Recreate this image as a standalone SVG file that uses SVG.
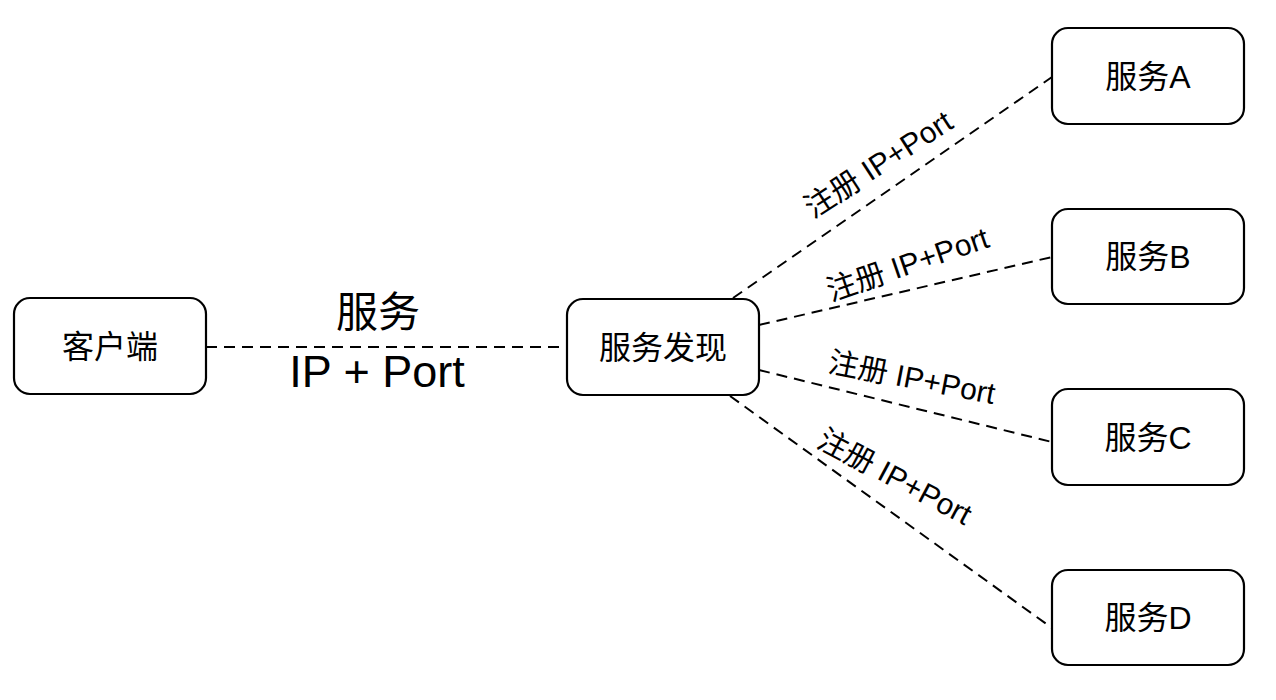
<svg xmlns="http://www.w3.org/2000/svg" width="1276" height="700" viewBox="0 0 1276 700">
<style>
.box{fill:#fff;stroke:#000;stroke-width:2.2}
.t{font-family:"Liberation Sans","Noto Sans CJK SC",sans-serif;fill:#000;text-anchor:middle}
.n{font-size:32px}
.e{font-size:30px}
.edge{fill:none;stroke:#000;stroke-width:2;stroke-dasharray:11 7}
</style>
<rect width="1276" height="700" fill="#fff"/>
<g id="connectors">
<line class="edge" x1="206" y1="347" x2="567" y2="347"/>
<line class="edge" x1="733" y1="298" x2="1052" y2="77"/>
<line class="edge" x1="759" y1="325" x2="1052" y2="257"/>
<line class="edge" x1="759" y1="370" x2="1052" y2="442"/>
<line class="edge" x1="730" y1="396" x2="1052" y2="628"/>
<text class="t" style="font-size:42px" x="378" y="327">服务</text>
<text class="t" style="font-size:45px" x="377" y="387">IP + Port</text>
<text class="t e" transform="translate(884,173) rotate(-33)">注册 IP+Port</text>
<text class="t e" transform="translate(911,274) rotate(-19)">注册 IP+Port</text>
<text class="t e" transform="translate(910,388) rotate(11)">注册 IP+Port</text>
<text class="t e" transform="translate(890,486) rotate(28)">注册 IP+Port</text>
</g>
<g id="client"><rect class="box" x="14" y="298" width="192" height="96" rx="16"/><text class="t n" x="110" y="358">客户端</text></g>
<g id="discovery"><rect class="box" x="567" y="299" width="192" height="96" rx="16"/><text class="t n" x="663" y="359">服务发现</text></g>
<g id="serviceA"><rect class="box" x="1052" y="28" width="192" height="96" rx="16"/><text class="t n" x="1148" y="88">服务A</text></g>
<g id="serviceB"><rect class="box" x="1052" y="209" width="192" height="95" rx="16"/><text class="t n" x="1148" y="268">服务B</text></g>
<g id="serviceC"><rect class="box" x="1052" y="389" width="192" height="96" rx="16"/><text class="t n" x="1148" y="449">服务C</text></g>
<g id="serviceD"><rect class="box" x="1052" y="570" width="192" height="95" rx="16"/><text class="t n" x="1148" y="629">服务D</text></g>
</svg>
